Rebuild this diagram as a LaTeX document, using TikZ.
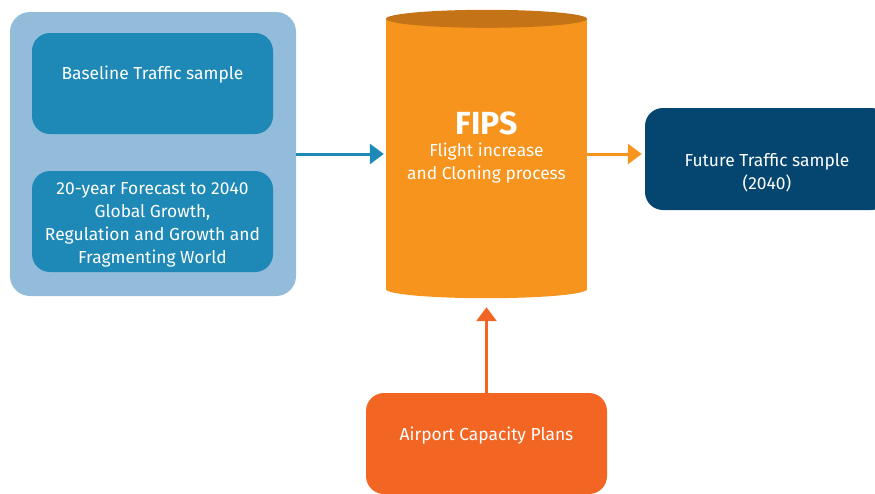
\documentclass[tikz,border=0pt]{standalone}
\usepackage{fontspec}
\setmainfont{Fira Sans}
\usetikzlibrary{arrows.meta}
\definecolor{panelblue}{HTML}{93BBDA}
\definecolor{boxblue}{HTML}{1E88B6}
\definecolor{navy}{HTML}{054670}
\definecolor{fipsorange}{HTML}{F7941D}
\definecolor{fipstop}{HTML}{C47417}
\definecolor{airportorange}{HTML}{F36523}

\begin{document}
\begin{tikzpicture}[x=1pt, y=-1pt,
		box/.style={rectangle, rounded corners=18pt, minimum width=241pt, minimum height=101pt, inner sep=0pt},
		boxtext/.style={text=white, font=\fontsize{17.4}{23}\selectfont, align=center},
		fipsend/.style={x radius=100.5pt, y radius=9pt},
		flow/.style={line width=3pt, -{Triangle[length=14pt, width=20pt]}}]
		\useasboundingbox (0,0) rectangle (875,493);
		\clip (0,0) rectangle (875,493);
		\node [box, fill=panelblue, minimum width=286pt, minimum height=284pt, rounded corners=20pt] (panel) at (153,154) {};
		\node [box, fill=boxblue] (baseline) at (152.5,83.5) {};
		\node [boxtext] (baselinetext) at (152.5,75) {Baseline Traffic sample};
		\node [box, fill=boxblue] (forecast) at (152.5,221.5) {};
		\node [boxtext] (forecasttext) at (152.5,225) {20-year Forecast to 2040\\Global Growth,\\Regulation and Growth and\\Fragmenting World};
		\node [rectangle, fill=fipsorange, minimum width=201pt, minimum height=270pt, inner sep=0pt] (fips) at (486.5,154) {};
		\fill [fipsorange] (fips.south) ellipse [fipsend];
		\fill [fipstop] (fips.north) ellipse [fipsend];
		\node [text=white, font=\fontsize{32}{32}\selectfont\bfseries] (fipstitle) at (486.5,123) {FIPS};
		\node [boxtext] (fipstext) at (486.5,163) {Flight increase\\and Cloning process};
		\node [box, fill=navy, minimum width=244pt, minimum height=102pt] (future) at (767,159) {};
		\node [boxtext] (futuretext) at (767,173) {Future Traffic sample\\(2040)};
		\node [box, fill=airportorange] (airport) at (486.5,443.5) {};
		\node [boxtext] (airporttext) at (486.5,436) {Airport Capacity Plans};
		\draw [flow, boxblue, shorten >=2pt] (panel.east) -- (fips.west);
		\draw [flow, fipsorange, shorten >=3pt] (fips.east) -- (future.west |- fips.east);
		\draw [flow, airportorange, shorten >=18pt] (airport.north) -- (fips.south);
	\end{tikzpicture}
\end{document}
